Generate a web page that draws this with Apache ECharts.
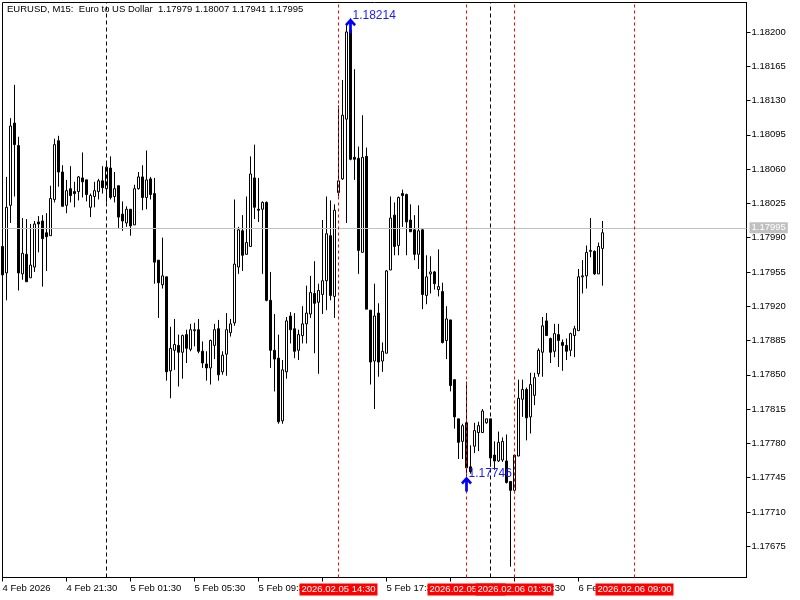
<!DOCTYPE html>
<html>
<head>
<meta charset="utf-8">
<script src="https://cdn.jsdelivr.net/npm/echarts@6/dist/echarts.min.js"></script>
<style>
  html, body { margin: 0; padding: 0; background: #fff; }
  #chart { width: 800px; height: 600px; }
</style>
</head>
<body>
<div id="chart"></div>
<script>
// EURUSD M15 bars, 4 Feb 17:30 .. 6 Feb 07:00
const openPrices = [
  1.17981, 1.17954, 1.18023, 1.18107, 1.18084, 1.17953, 1.17973, 1.17949, 1.17960, 1.18006,
  1.18007, 1.17995, 1.17992, 1.18029, 1.18089, 1.18057, 1.18023, 1.18040, 1.18037, 1.18037,
  1.18051, 1.18049, 1.18021, 1.18032, 1.18037, 1.18048, 1.18040, 1.18061, 1.18032, 1.18043,
  1.18014, 1.18005, 1.18019, 1.18003, 1.18040, 1.18052, 1.18031, 1.18050, 1.18035, 1.17967,
  1.17942, 1.17950, 1.17854, 1.17875, 1.17880, 1.17873, 1.17891, 1.17876, 1.17895, 1.17896,
  1.17874, 1.17861, 1.17857, 1.17880, 1.17897, 1.17853, 1.17871, 1.17893, 1.17903, 1.17960,
  1.17997, 1.17973, 1.17981, 1.18051, 1.18019, 1.18019, 1.18026, 1.17926, 1.17875, 1.17867,
  1.17803, 1.17853, 1.17910, 1.17897, 1.17875, 1.17890, 1.17902, 1.17912, 1.17933, 1.17924,
  1.17932, 1.17946, 1.17992, 1.17930, 1.18036, 1.18050, 1.18111, 1.18202, 1.18072, 1.18071,
  1.17975, 1.18073, 1.17916, 1.17864, 1.17913, 1.17864, 1.17872, 1.17957, 1.18013, 1.17982,
  1.18035, 1.18034, 1.18008, 1.17998, 1.17973, 1.17998, 1.17931, 1.17953, 1.17955, 1.17937,
  1.17935, 1.17885, 1.17906, 1.17845, 1.17805, 1.17782, 1.17801, 1.17756, 1.17777, 1.17791,
  1.17791, 1.17801, 1.17805, 1.17768, 1.17762, 1.17763, 1.17762, 1.17741, 1.17732, 1.17767,
  1.17825, 1.17835, 1.17807, 1.17829, 1.17851, 1.17873, 1.17905, 1.17887, 1.17874, 1.17891,
  1.17883, 1.17880, 1.17875, 1.17890, 1.17895, 1.17950, 1.17951, 1.17976, 1.17976, 1.17953,
  1.17979
];
const closePrices = [
  1.17952, 1.18021, 1.18104, 1.18085, 1.17954, 1.17974, 1.17945, 1.17962, 1.18004, 1.18004,
  1.17989, 1.17991, 1.18030, 1.18085, 1.18057, 1.18022, 1.18038, 1.18033, 1.18035, 1.18052,
  1.18047, 1.18034, 1.18033, 1.18038, 1.18048, 1.18041, 1.18062, 1.18031, 1.18040, 1.18011,
  1.18007, 1.18019, 1.18002, 1.18040, 1.18052, 1.18031, 1.18049, 1.18034, 1.17965, 1.17944,
  1.17951, 1.17853, 1.17877, 1.17881, 1.17873, 1.17890, 1.17877, 1.17896, 1.17896, 1.17874,
  1.17862, 1.17857, 1.17885, 1.17896, 1.17850, 1.17870, 1.17896, 1.17902, 1.17963, 1.17998,
  1.17972, 1.17985, 1.18055, 1.18021, 1.18018, 1.18026, 1.17926, 1.17875, 1.17866, 1.17802,
  1.17855, 1.17905, 1.17896, 1.17874, 1.17891, 1.17902, 1.17913, 1.17934, 1.17923, 1.17936,
  1.17946, 1.17994, 1.17931, 1.18018, 1.18048, 1.18115, 1.18200, 1.18070, 1.18070, 1.17977,
  1.18072, 1.17917, 1.17863, 1.17910, 1.17863, 1.17874, 1.17956, 1.18010, 1.17981, 1.18031,
  1.18033, 1.18006, 1.17996, 1.17973, 1.17997, 1.17932, 1.17950, 1.17955, 1.17943, 1.17940,
  1.17883, 1.17907, 1.17839, 1.17807, 1.17781, 1.17798, 1.17755, 1.17751, 1.17793, 1.17798,
  1.17813, 1.17805, 1.17765, 1.17762, 1.17781, 1.17782, 1.17740, 1.17732, 1.17768, 1.17826,
  1.17835, 1.17806, 1.17840, 1.17847, 1.17875, 1.17900, 1.17890, 1.17873, 1.17892, 1.17885,
  1.17880, 1.17874, 1.17892, 1.17897, 1.17950, 1.17951, 1.17975, 1.17977, 1.17953, 1.17981,
  1.17995
];
const lowPrices = [
  1.17947, 1.17926, 1.18005, 1.18032, 1.17936, 1.17947, 1.17945, 1.17949, 1.17955, 1.17975,
  1.17940, 1.17956, 1.17992, 1.18026, 1.18042, 1.18022, 1.18015, 1.18026, 1.18021, 1.18028,
  1.18031, 1.18027, 1.18011, 1.18021, 1.18029, 1.18035, 1.18026, 1.18029, 1.18026, 1.18000,
  1.17997, 1.18001, 1.17992, 1.18003, 1.18039, 1.18018, 1.18019, 1.18029, 1.17943, 1.17908,
  1.17938, 1.17844, 1.17826, 1.17855, 1.17838, 1.17846, 1.17862, 1.17874, 1.17879, 1.17872,
  1.17857, 1.17844, 1.17840, 1.17866, 1.17844, 1.17850, 1.17849, 1.17889, 1.17900, 1.17953,
  1.17956, 1.17973, 1.17981, 1.18009, 1.18006, 1.17953, 1.17925, 1.17857, 1.17833, 1.17800,
  1.17800, 1.17846, 1.17882, 1.17867, 1.17865, 1.17882, 1.17882, 1.17908, 1.17872, 1.17851,
  1.17912, 1.17916, 1.17926, 1.17908, 1.18032, 1.18049, 1.18005, 1.18069, 1.18049, 1.17953,
  1.17975, 1.17917, 1.17840, 1.17815, 1.17848, 1.17853, 1.17872, 1.17957, 1.17972, 1.17972,
  1.18001, 1.17972, 1.17996, 1.17967, 1.17958, 1.17917, 1.17922, 1.17933, 1.17937, 1.17930,
  1.17882, 1.17866, 1.17833, 1.17795, 1.17764, 1.17764, 1.17746, 1.17749, 1.17770, 1.17772,
  1.17791, 1.17800, 1.17756, 1.17753, 1.17761, 1.17761, 1.17739, 1.17654, 1.17729, 1.17767,
  1.17807, 1.17783, 1.17790, 1.17819, 1.17848, 1.17848, 1.17890, 1.17862, 1.17868, 1.17858,
  1.17854, 1.17865, 1.17869, 1.17868, 1.17895, 1.17933, 1.17938, 1.17970, 1.17952, 1.17953,
  1.17941
];
const highPrices = [
  1.17988, 1.18052, 1.18112, 1.18146, 1.18093, 1.18010, 1.18009, 1.18004, 1.18007, 1.18012,
  1.18013, 1.18015, 1.18043, 1.18091, 1.18094, 1.18064, 1.18049, 1.18063, 1.18047, 1.18053,
  1.18077, 1.18049, 1.18035, 1.18047, 1.18050, 1.18063, 1.18066, 1.18073, 1.18057, 1.18043,
  1.18027, 1.18022, 1.18019, 1.18044, 1.18057, 1.18064, 1.18079, 1.18052, 1.18051, 1.17967,
  1.17990, 1.17950, 1.17899, 1.17907, 1.17891, 1.17891, 1.17896, 1.17902, 1.17903, 1.17907,
  1.17884, 1.17874, 1.17886, 1.17902, 1.17906, 1.17874, 1.17913, 1.17907, 1.18029, 1.18001,
  1.18013, 1.18032, 1.18073, 1.18085, 1.18051, 1.18027, 1.18027, 1.17955, 1.17912, 1.17891,
  1.17865, 1.17909, 1.17914, 1.17913, 1.17896, 1.17920, 1.17941, 1.17951, 1.17966, 1.17943,
  1.18008, 1.18032, 1.18028, 1.18024, 1.18125, 1.18151, 1.18208, 1.18214, 1.18162, 1.18083,
  1.18115, 1.18082, 1.17916, 1.17943, 1.17923, 1.17883, 1.17957, 1.18032, 1.18026, 1.18032,
  1.18039, 1.18035, 1.18024, 1.18013, 1.18023, 1.17999, 1.17972, 1.17971, 1.17956, 1.17978,
  1.17944, 1.17920, 1.17906, 1.17845, 1.17805, 1.17800, 1.17843, 1.17778, 1.17801, 1.17802,
  1.17815, 1.17805, 1.17805, 1.17782, 1.17792, 1.17786, 1.17789, 1.17741, 1.17768, 1.17845,
  1.17845, 1.17837, 1.17852, 1.17852, 1.17877, 1.17909, 1.17913, 1.17888, 1.17902, 1.17902,
  1.17886, 1.17887, 1.17893, 1.17900, 1.17958, 1.17967, 1.17982, 1.18010, 1.17977, 1.17985,
  1.18007
];

const priceTicks = [
  1.18200, 1.18165, 1.18130, 1.18095, 1.18060, 1.18025, 1.17990, 1.17955,
  1.17920, 1.17885, 1.17850, 1.17815, 1.17780, 1.17745, 1.17710, 1.17675
];
const timeTicks = [
  '2026.02.04 17:30', '2026.02.04 21:30', '2026.02.05 01:30', '2026.02.05 05:30', '2026.02.05 09:30',
  '2026.02.05 13:30', '2026.02.05 17:30', '2026.02.05 21:30', '2026.02.06 01:30', '2026.02.06 05:30'
];
const timeTickLabels = [
  '4 Feb 2026', '4 Feb 21:30', '5 Feb 01:30', '5 Feb 05:30', '5 Feb 09:30',
  '5 Feb 13:30', '5 Feb 17:30', '5 Feb 21:30', '6 Feb 01:30', '6 Feb 05:30'
];
const periodLines = ['2026.02.05 14:30', '2026.02.05 22:30', '2026.02.06 01:30', '2026.02.06 09:00'];
const daySeparators = ['2026.02.05 00:00', '2026.02.06 00:00'];
const lastPrice = 1.17995;
const arrowTimes = ['2026.02.05 15:15', '2026.02.05 22:30'];
const arrowPrices = [1.18214, 1.17746];

// 15-minute slots, including the empty space on the right
const slotCount = 187;
const categories = [];
const t0 = Date.UTC(2026, 1, 4, 17, 30);
const pad = n => String(n).padStart(2, '0');
for (let i = 0; i < slotCount; i++) {
  const d = new Date(t0 + i * 15 * 60000);
  categories.push(d.getUTCFullYear() + '.' + pad(d.getUTCMonth() + 1) + '.' + pad(d.getUTCDate()) +
    ' ' + pad(d.getUTCHours()) + ':' + pad(d.getUTCMinutes()));
}

const candles = openPrices.map((o, i) => [o, closePrices[i], lowPrices[i], highPrices[i]]);
const tickMap = {};
timeTicks.forEach((t, i) => { tickMap[t] = timeTickLabels[i]; });
const isTick = (idx, val) => tickMap[val] !== undefined;

const font = "'Liberation Sans', Arial, sans-serif";
const arrowPath = 'path://M6,0 L12,6 L10,8 L7.5,5.5 L7.5,15 L4.5,15 L4.5,5.5 L2,8 L0,6 Z';

const chart = echarts.init(document.getElementById('chart'));
chart.setOption({
  animation: false,
  backgroundColor: '#fff',
  textStyle: { fontFamily: font },
  title: {
    text: 'EURUSD, M15:  Euro to US Dollar  1.17979 1.18007 1.17941 1.17995',
    left: 7, top: 4, padding: 0,
    textStyle: { fontSize: 9.5, fontWeight: 'normal', color: '#000', fontFamily: font }
  },
  grid: {
    left: 2.5, right: 53.5, top: 2.5, bottom: 22.5, outerBoundsMode: 'none',
    show: true, borderColor: '#000', borderWidth: 1
  },
  xAxis: {
    type: 'category',
    data: categories,
    boundaryGap: false,
    axisLine: { lineStyle: { color: '#000', width: 1 } },
    axisTick: { interval: isTick, length: 4, lineStyle: { color: '#000' } },
    axisLabel: {
      interval: isTick, formatter: v => tickMap[v] || '', align: 'left', margin: 6,
      fontSize: 9.5, color: '#000', fontFamily: font
    },
    splitLine: { show: false }
  },
  yAxis: {
    type: 'value',
    position: 'right',
    min: 1.176430,
    max: 1.182301,
    axisLine: { show: true, lineStyle: { color: '#000', width: 1 } },
    axisTick: { show: true, customValues: priceTicks, length: 4, lineStyle: { color: '#000' } },
    axisLabel: {
      customValues: priceTicks, formatter: v => v.toFixed(5), margin: 5,
      fontSize: 9.5, color: '#000', fontFamily: font
    },
    splitLine: { show: false }
  },
  series: [
    {
      // last price line
      type: 'line', data: [], z: 1, silent: true,
      markLine: {
        silent: true, symbol: 'none', animation: false,
        lineStyle: { color: '#c0c0c0', type: 'solid', width: 1 },
        label: {
          show: true, position: 'end', distance: 3, formatter: lastPrice.toFixed(5),
          backgroundColor: '#c0c0c0', color: '#fff', padding: [1, 2, 0, 2],
          fontSize: 9.5, fontFamily: font
        },
        data: [{ yAxis: lastPrice }]
      }
    },
    {
      type: 'candlestick',
      data: candles,
      barWidth: 2,
      z: 3,
      silent: true,
      itemStyle: { color: '#fff', color0: '#000', borderColor: '#000', borderColor0: '#000', borderWidth: 1 }
    },
    {
      // day separators
      type: 'line', data: [], z: 5, silent: true,
      markLine: {
        silent: true, symbol: 'none', animation: false,
        lineStyle: { color: '#000', type: [4, 3], width: 1 },
        label: { show: false },
        data: daySeparators.map(t => ({ xAxis: t }))
      }
    },
    {
      // vertical period lines
      type: 'line', data: [], z: 5, silent: true,
      markLine: {
        silent: true, symbol: 'none', animation: false,
        lineStyle: { color: '#ff0000', type: [3, 3], width: 1, opacity: 1 },
        label: {
          show: true, position: 'start', distance: 6, formatter: p => p.name,
          backgroundColor: '#ff0000', color: '#fff', padding: [1, 2, 1, 2],
          fontSize: 9.5, fontFamily: font
        },
        data: periodLines.map(t => ({ xAxis: t, name: t }))
      }
    },
    {
      // arrow objects with price text
      type: 'line', data: [], z: 6, silent: true,
      markPoint: {
        silent: true,
        symbol: arrowPath,
        symbolSize: [11, 15],
        symbolOffset: [0, '50%'],
        itemStyle: { color: '#0000ff' },
        label: {
          show: true, position: [7.5, -9], color: '#1a1aff', fontSize: 12, fontFamily: font,
          formatter: p => p.value.toFixed(5)
        },
        data: arrowTimes.map((t, i) => ({ coord: [t, arrowPrices[i]], value: arrowPrices[i] }))
      }
    }
  ]
});
</script>
</body>
</html>
